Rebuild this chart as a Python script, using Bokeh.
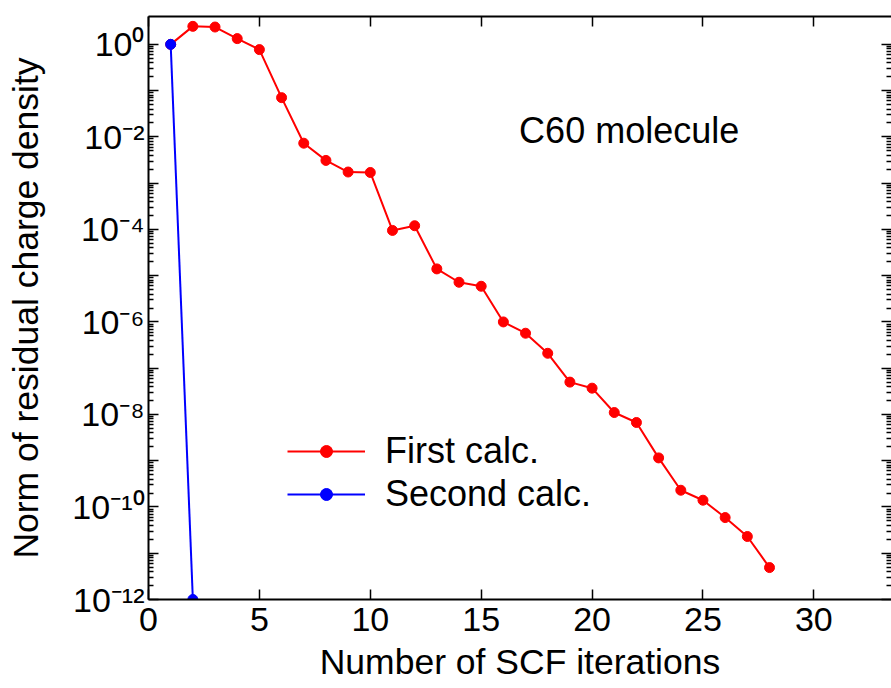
from bokeh.plotting import figure
from bokeh.models import (LinearAxis, LogAxis, FixedTicker, CustomJSTickFormatter,
                          Legend, LegendItem, Range1d, Label)
from bokeh.embed import file_html
from bokeh.resources import INLINE

# ---------------- data ----------------
iterations_first = [1, 2, 3, 4, 5, 6, 7, 8, 9, 10, 11, 12, 13, 14,
                    15, 16, 17, 18, 19, 20, 21, 22, 23, 24, 25, 26, 27, 28]
residual_first = [1.0, 2.45, 2.37, 1.33, 0.77, 0.0705, 0.0073, 0.0031, 0.00174, 0.0017,
                  9.5e-5, 1.2e-4, 1.4e-5, 7.2e-6, 5.9e-6, 1.0e-6, 5.7e-7, 2.1e-7,
                  5.0e-8, 3.7e-8, 1.1e-8, 6.7e-9, 1.15e-9, 2.3e-10, 1.4e-10, 5.9e-11,
                  2.3e-11, 4.9e-12]
iterations_second = [1, 2]
residual_second = [1.0, 1e-12]

series_labels = ["First calc.", "Second calc."]
annotation_text = "C60 molecule"
x_label = "Number of SCF iterations"
y_label = "Norm of residual charge density"

x_ticks = [0, 5, 10, 15, 20, 25, 30]
y_tick_exponents = [0, -1, -2, -3, -4, -5, -6, -7, -8, -9, -10, -11, -12]
y_label_exponents = [0, -2, -4, -6, -8, -10, -12]
y_tick_labels = ["10\u2070", "10\u207b\u00b2", "10\u207b\u2074", "10\u207b\u2076",
                 "10\u207b\u2078", "10\u207b\u00b9\u2070", "10\u207b\u00b9\u00b2"]

FONT = "Liberation Sans"

y_major = [10.0 ** e for e in y_tick_exponents]
y_minor = [k * 10.0 ** e for e in y_tick_exponents[1:] for k in range(2, 10)]

p = figure(width=891, height=688, output_backend="svg", toolbar_location=None,
           x_range=Range1d(0, 33.5), y_range=Range1d(1e-12, 4.0),
           y_axis_type="log", x_axis_location=None, y_axis_location=None,
           min_border_left=148, min_border_right=0, min_border_top=16,
           min_border_bottom=89)
p.outline_line_color = None
p.xgrid.visible = False
p.ygrid.visible = False
p.background_fill_color = "white"
p.border_fill_color = "white"

y_ticker = FixedTicker(ticks=y_major, minor_ticks=y_minor)
x_ticker = FixedTicker(ticks=x_ticks)

y_formatter = CustomJSTickFormatter(
    args=dict(exps=y_label_exponents, labels=y_tick_labels),
    code="""
const e = Math.round(Math.log10(tick));
const i = exps.indexOf(e);
return i >= 0 ? labels[i] : "";
""")
blank_formatter = CustomJSTickFormatter(code="return '';")


def style(ax, show_labels=True):
    ax.axis_line_width = 2
    ax.axis_line_color = "black"
    ax.major_tick_in = 10
    ax.major_tick_out = 0
    ax.major_tick_line_width = 1.5
    ax.major_tick_line_color = "black"
    ax.minor_tick_line_width = 1.5
    ax.minor_tick_line_color = "black"
    ax.major_label_text_font = FONT
    if show_labels:
        ax.major_label_text_font_size = "34px"
        ax.major_label_text_color = "black"
    else:
        ax.formatter = blank_formatter
        ax.major_label_text_font_size = "1px"
        ax.major_label_text_color = None
        ax.major_label_standoff = 0
    ax.axis_label_text_font = FONT
    ax.axis_label_text_font_size = "35.5px"
    ax.axis_label_text_font_style = "normal"
    ax.axis_label_text_color = "black"


xb = LinearAxis(ticker=x_ticker, axis_label=x_label)
style(xb)
xb.minor_tick_in = 0
xb.minor_tick_out = 0
xb.major_label_standoff = 8
xb.axis_label_standoff = 8
p.add_layout(xb, "below")

xt = LinearAxis(ticker=x_ticker)
style(xt, show_labels=False)
xt.minor_tick_in = 0
xt.minor_tick_out = 0
p.add_layout(xt, "above")

yl = LogAxis(ticker=y_ticker, formatter=y_formatter, axis_label=y_label)
style(yl)
yl.minor_tick_in = 5
yl.minor_tick_out = 0
yl.major_label_standoff = 4
yl.axis_label_standoff = 23
p.add_layout(yl, "left")

yr = LogAxis(ticker=y_ticker)
style(yr, show_labels=False)
yr.axis_line_color = None
yr.minor_tick_in = 5
yr.minor_tick_out = 0
p.add_layout(yr, "right")

red_line = p.line(iterations_first, residual_first, line_color="#ff0000", line_width=2)
red_pts = p.scatter(iterations_first, residual_first, size=10, fill_color="#ff0000",
                    line_color="#ff0000")
blue_line = p.line(iterations_second, residual_second, line_color="#0000ff", line_width=2)
blue_pts = p.scatter(iterations_second, residual_second, size=10, fill_color="#0000ff",
                     line_color="#0000ff")

legend = Legend(items=[LegendItem(label=series_labels[0], renderers=[red_line, red_pts]),
                       LegendItem(label=series_labels[1], renderers=[blue_line, blue_pts])],
                location=(129, 74), glyph_width=78, glyph_height=30, label_standoff=20,
                spacing=1, padding=10, label_text_font=FONT, label_text_font_size="36px",
                label_text_color="black", border_line_alpha=0, background_fill_alpha=0)
p.add_layout(legend, "center")

p.add_layout(Label(x=16.71, y=10 ** -1.86, text=annotation_text, text_font=FONT,
                   text_font_size="36px", text_color="black",
                   text_baseline="middle"))

open("out.html", "w").write(file_html(p, INLINE))
